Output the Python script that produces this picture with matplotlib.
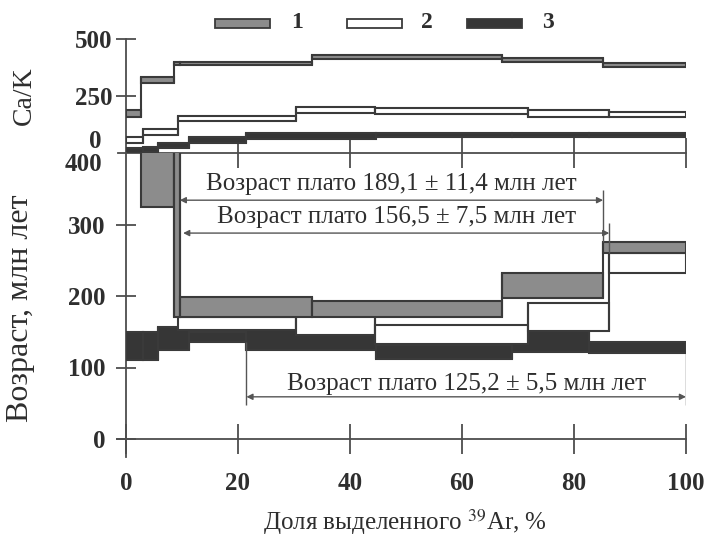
import numpy as np
import matplotlib
matplotlib.use("Agg")
import matplotlib.pyplot as plt
from matplotlib.patches import Rectangle

plt.rcParams["font.family"] = ["Liberation Serif", "DejaVu Serif"]
plt.rcParams["mathtext.fontset"] = "stix"

# step boundaries (cumulative % of released 39Ar), Ca/K and age boxes per step
steps_1 = [0, 2.6, 8.6, 9.6, 33.3, 67.1, 85.2, 100]
cak_lo_1 = [159, 306, 386, 386, 411, 400, 376]
cak_hi_1 = [189, 335, 400, 400, 430, 418, 396]
age_lo_1 = [np.nan, 325, 170, 171, 171, 197, 260]
age_hi_1 = [np.nan, 420, 420, 199, 193, 232, 276]

steps_2 = [0, 3.1, 9.3, 30.4, 44.5, 71.8, 86.3, 100]
cak_lo_2 = [45, 79, 140, 177, 172, 159, 157]
cak_hi_2 = [72, 104, 164, 200, 197, 189, 181]
age_lo_2 = [np.nan, np.nan, 152, 145, 133, 151, 232]
age_hi_2 = [np.nan, np.nan, 170, 176, 159, 190, 260]

steps_3 = [0, 3.1, 5.8, 11.2, 21.5, 44.7, 68.9, 82.6, 100]
cak_lo_3 = [1, 6, 21, 45, 61, 71, 71, 71]
cak_hi_3 = [23, 28, 43, 72, 88, 89, 89, 89]
age_lo_3 = [110, 110, 124, 136, 124, 112, 122, 120]
age_hi_3 = [150, 150, 157, 150, 152, 131, 152, 136]

# plateau annotations: label, start %, end %, arrow age, text age
plateau_labels = ["Возраст плато 189,1 ± 11,4 млн лет",
                  "Возраст плато 156,5 ± 7,5 млн лет",
                  "Возраст плато 125,2 ± 5,5 млн лет"]
plateau_start = [9.6, 10.2, 21.5]
plateau_end = [85.2, 86.3, 100]
plateau_arrow = [334, 288, 59]
plateau_text = [356, 310, 77]

x_ticks = [0, 20, 40, 60, 80, 100]
age_ticks = [0, 100, 200, 300]
cak_ticks = [250, 500]

FILL = ["#8c8c8c", "#ffffff", "#363636"]
EDGE = "#3a3a3a"
AX = "#4d4d4d"
TXT = "#2e2e2e"

W, H = 707, 539
fig = plt.figure(figsize=(W / 100, H / 100), dpi=100)
ax_ca = fig.add_axes([126 / W, 1 - 153 / H, 560 / W, 114 / H])
ax_age = fig.add_axes([126 / W, 1 - 439 / H, 560 / W, 286 / H])
for ax in (ax_ca, ax_age):
    ax.set_xlim(0, 100)
    ax.patch.set_alpha(0)
    for s in ("top", "right"):
        ax.spines[s].set_visible(False)
    for s in ("left", "bottom"):
        ax.spines[s].set_color(AX)
        ax.spines[s].set_linewidth(1.3)
ax_ca.set_ylim(0, 500)
ax_age.set_ylim(0, 400)


def draw_spectrum(ax, steps, lo, hi, fill):
    lo = np.asarray(lo, float)
    hi = np.asarray(hi, float)
    for i in range(len(lo)):
        if np.isnan(lo[i]):
            continue
        ax.add_patch(Rectangle((steps[i], lo[i]), steps[i + 1] - steps[i], hi[i] - lo[i],
                               facecolor=fill, edgecolor=EDGE, linewidth=1.5, zorder=3))
    for i in range(1, len(lo)):
        if np.isnan(lo[i]) or np.isnan(lo[i - 1]):
            continue
        ax.vlines(steps[i], min(lo[i], lo[i - 1]), max(hi[i], hi[i - 1]),
                  color=EDGE, linewidth=1.5, zorder=3)


samples = [
    (steps_3, cak_lo_3, cak_hi_3, age_lo_3, age_hi_3, FILL[2]),
    (steps_2, cak_lo_2, cak_hi_2, age_lo_2, age_hi_2, FILL[1]),
    (steps_1, cak_lo_1, cak_hi_1, age_lo_1, age_hi_1, FILL[0]),
]
for st, clo, chi, alo, ahi, fc in samples:
    draw_spectrum(ax_ca, st, clo, chi, fc)
    draw_spectrum(ax_age, st, alo, ahi, fc)

# axes, ticks, tick labels
ax_ca.spines["left"].set_bounds(0, 500)
ax_ca.spines["bottom"].set_bounds(-1.5, 100)
ax_age.spines["left"].set_bounds(-25, 400)
ax_age.spines["bottom"].set_bounds(-1.6, 100)

ax_ca.set_xticks(x_ticks[1:])
ax_ca.tick_params(axis="x", direction="inout", length=21, width=1.3, color=AX, labelbottom=False)
ax_ca.set_yticks(cak_ticks)
ax_ca.tick_params(axis="y", direction="inout", length=14, width=1.3, color=AX, pad=3,
                  labelsize=18, labelcolor=TXT)
ax_ca.text(-4.3, 0, "0", ha="right", va="bottom", fontsize=18, fontweight="bold", color=TXT)

ax_age.set_xticks(x_ticks)
ax_age.tick_params(axis="x", direction="inout", length=21, width=1.3, color=AX, pad=13,
                   labelsize=18, labelcolor=TXT)
ax_age.set_yticks(age_ticks)
ax_age.tick_params(axis="y", direction="inout", length=14, width=1.3, color=AX, pad=8,
                   labelsize=18, labelcolor=TXT)
ax_age.text(-4.3, 400, "400", ha="right", va="top", fontsize=18, fontweight="bold", color=TXT)
for ax in (ax_ca, ax_age):
    for lab in ax.get_xticklabels() + ax.get_yticklabels():
        lab.set_fontweight("bold")

# plateau arrows
for i, lab in enumerate(plateau_labels):
    ax_age.annotate("", xy=(plateau_start[i], plateau_arrow[i]),
                    xytext=(plateau_end[i], plateau_arrow[i]),
                    arrowprops=dict(arrowstyle="<|-|>", color="#555555", lw=1.0,
                                    mutation_scale=9, shrinkA=0, shrinkB=0), zorder=4)
    ax_age.text((plateau_start[i] + plateau_end[i]) / 2, plateau_text[i],
                lab, ha="center", va="center", fontsize=18, color=TXT, zorder=5)
ax_age.vlines(plateau_end[0], 276, 348, color="#555555", lw=1.0, zorder=4)
ax_age.vlines(plateau_end[1], 260, 302, color="#555555", lw=1.0, zorder=4)
ax_age.vlines(plateau_start[2], 48, 136, color="#555555", lw=1.0, zorder=4)
ax_age.vlines(plateau_end[2], 48, 120, color="#555555", lw=1.0, zorder=4)

# axis titles
fig.text(24 / W, 1 - 96 / H, "Ca/K", rotation=90, ha="center", va="center", fontsize=20, color=TXT)
fig.text(21 / W, 1 - 308 / H, "Возраст, млн лет", rotation=90, ha="center", va="center",
         fontsize=23, color=TXT)
fig.text(405 / W, 1 - 522 / H, "Доля выделенного $^{39}$Ar, %", ha="center", va="center",
         fontsize=18, color=TXT)

# legend
leg_x = [215, 347, 467]
leg_lab_x = [297, 427, 548]
for i in range(3):
    fig.add_artist(Rectangle((leg_x[i] / W, 1 - 28 / H), 55 / W, 9 / H, transform=fig.transFigure,
                             facecolor=FILL[i], edgecolor=EDGE, linewidth=1.3))
    fig.text(leg_lab_x[i] / W, 1 - 23 / H, str(i + 1), ha="center", va="center",
             fontsize=17, fontweight="bold", color=TXT)

fig.savefig("out.png", dpi=100)
